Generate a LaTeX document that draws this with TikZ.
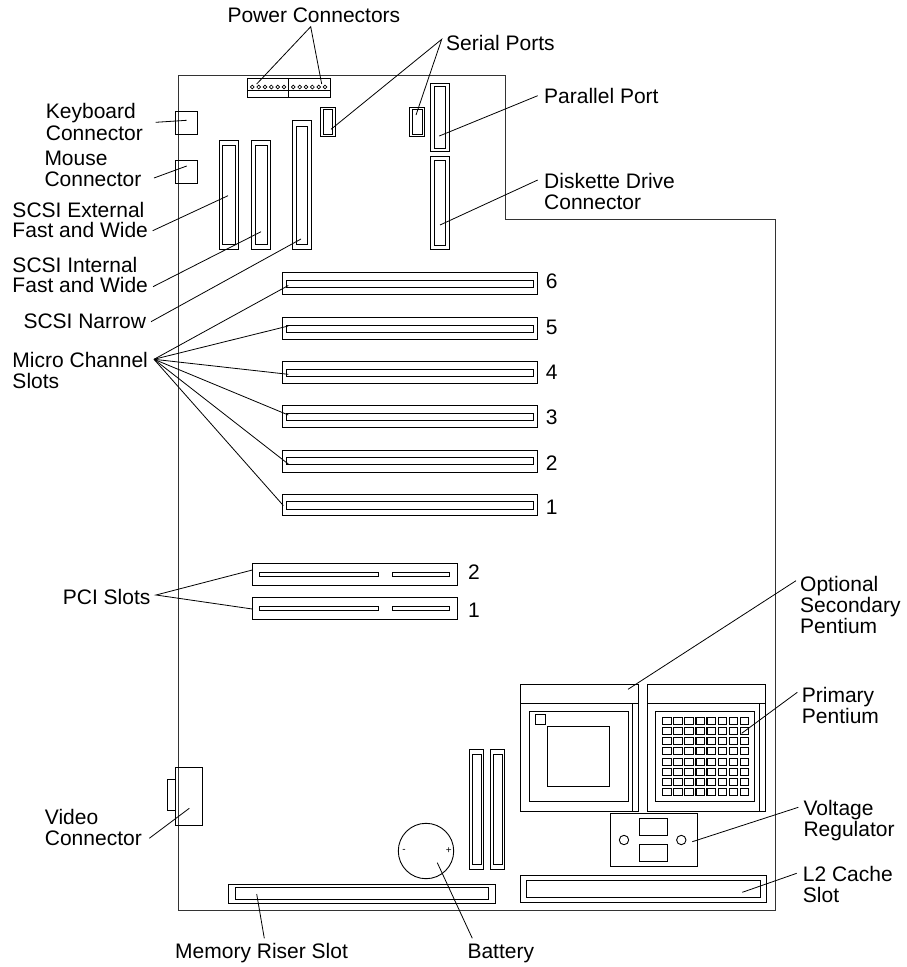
\documentclass[tikz,border=0pt]{standalone}
\usepackage{fontspec}
\setmainfont{Liberation Sans}
\tikzset{
    part/.style={black,line width=0.9pt},
    board/.style={black!80,line width=1pt},
    leader/.style={black,line width=0.8pt},
    callout/.style={anchor=north west,inner sep=0pt,align=left,font=\fontsize{21}{20.8}\selectfont},
    pinmark/.style={inner sep=0pt,font=\fontsize{10}{10}\selectfont}
}
\begin{document}
\begin{tikzpicture}[x=1pt,y=-1pt]
    \useasboundingbox (0,0) rectangle (907,967);
    % board outline
    \draw[board] (178.7,75) -- (505,75) -- (505,219) -- (775.3,219) -- (775.3,910.7) -- (178.7,910.7) -- cycle;
    % power connectors
    \draw[part] (247.5,78.7) rectangle (330.7,97.3);
    \draw[part] (247.5,90.7) -- (330.7,90.7) (288,78.7) -- (288,97.3);
    \foreach \i in {0,...,5} {
        \draw[part,line width=0.7pt] ({252.3+6.35*\i},87) circle[radius=1.9pt];
        \draw[part,line width=0.7pt] ({293.3+6.35*\i},87) circle[radius=1.9pt];
    }
    % keyboard, mouse, video
    \draw[part] (175,111.7) rectangle (197.3,134.3);
    \draw[part] (175,160.7) rectangle (197.3,183);
    \draw[part] (175,767.3) rectangle (202.3,825);
    \draw[part] (167,779.7) rectangle (175,810.3);
    % double outlined connectors, outer box then inner box
    \foreach \xa/\ya/\xb/\yb/\xc/\yc/\xd/\yd in {
        219.3/140/238.3/249.3/222.7/145.3/235/244.7,
        251.7/140/270.7/249.3/255.7/145.3/267/244.7,
        292.7/120.7/311.3/249.3/296.7/126/307.7/244,
        320/107.3/335.3/136/323/109/332.7/134.3,
        409.3/107.3/424.7/136/412.3/109/422/134.3,
        430.3/83.7/449/151.3/434.3/86.3/445.7/148.3,
        430.3/156.3/449/249.3/434.3/160.3/445.7/245.7,
        469.7/749.3/483.3/869/472.3/754.7/481.3/864.3,
        490.7/749.3/504.3/869/493.3/754.7/502.3/864.3,
        228.7/884.3/495/903/235.3/887.7/488.7/899.7,
        520/875.7/766.3/902.3/526.3/880.3/760/897.3
    } {
        \draw[part] (\xa,\ya) rectangle (\xb,\yb) (\xc,\yc) rectangle (\xd,\yd);
    }
    % micro channel slots
    \foreach \ya/\yb/\yc/\yd in {
        272.7/294.3/280.3/287.7,
        317.3/339.3/325/332.3,
        361.7/383.3/369/376.3,
        405.3/427.3/413/420.3,
        450/472/457.3/464.7,
        494.3/515.7/501.7/509
    } {
        \draw[part] (282.3,\ya) rectangle (537.3,\yb) (286.3,\yc) rectangle (533.3,\yd);
    }
    \node[callout] (mca6) at (545.7,273.6) {6};
    \node[callout] (mca5) at (545.7,319.6) {5};
    \node[callout] (mca4) at (545.7,365.3) {4};
    \node[callout] (mca3) at (545.7,409.3) {3};
    \node[callout] (mca2) at (545.7,455.3) {2};
    \node[callout] (mca1) at (545.7,500) {1};
    % pci slots
    \foreach \ya/\yc in {563.3/572.3,597.3/606.3} {
        \draw[part] (252.3,\ya) rectangle (457.7,\ya+22);
        \draw[part] (259.7,\yc) rectangle (378.7,\yc+4) (392.3,\yc) rectangle (449.7,\yc+4);
    }
    \node[callout] (pci2) at (468,564.3) {2};
    \node[callout] (pci1) at (468,602.6) {1};
    % battery
    \draw[part] (426,851) circle[radius=27.7pt];
    \node[pinmark] (minus) at (404,850.5) {-};
    \node[pinmark] (plus) at (448.7,850.5) {+};
    % pentium sockets
    \foreach \xa/\xb/\xc in {520.7/638.7/632.7,647/765.3/759.3} {
        \draw[part] (\xa,684) rectangle (\xb,811);
        \draw[part] (\xa,703) -- (\xb,703) (\xc,703) -- (\xc,811);
    }
    \draw[part] (529.3,711.3) rectangle (628.3,801.3);
    \draw[part] (547,726) rectangle (609.3,786);
    \draw[part] (535,714) rectangle (545.7,724);
    \draw[part] (655.3,711.3) rectangle (754,801.3);
    \foreach \i in {0,...,7} {
        \foreach \j in {0,...,7} {
            \draw[part,line width=1.1pt] ({662.85+11.04*\i},{717.2+10.23*\j}) rectangle +(8.3,7);
        }
    }
    % voltage regulator
    \draw[part] (610.3,813.7) rectangle (697.3,866);
    \draw[part] (639,818.3) rectangle (667.7,835.3);
    \draw[part] (639,844) rectangle (667.7,861.3);
    \draw[part] (624,840) circle[radius=4.7pt];
    \draw[part] (681.3,840) circle[radius=4.7pt];
    % labels
    \node[callout] (power) at (227.3,7.5) {Power Connectors};
    \node[callout] (serial) at (446,35) {Serial Ports};
    \node[callout] (parallel) at (544,88) {Parallel Port};
    \node[callout] (diskette) at (544,173) {Diskette Drive\\Connector};
    \node[callout] (keyboard) at (45.7,103) {Keyboard\\[1.5pt]Connector};
    \node[callout] (mouse) at (44.3,150.7) {Mouse\\Connector};
    \node[callout] (external) at (12.3,201.7) {SCSI External\\Fast and Wide};
    \node[callout] (internal) at (12.3,256.7) {SCSI Internal\\Fast and Wide};
    \node[callout] (narrow) at (23.3,314) {SCSI Narrow};
    \node[callout] (micro) at (12.3,352.5) {Micro Channel\\Slots};
    \node[callout] (pci) at (62.7,589) {PCI Slots};
    \node[callout] (video) at (44.7,809) {Video\\Connector};
    \node[callout] (memory) at (175,943.5) {Memory Riser Slot};
    \node[callout] (battery) at (467.3,943.5) {Battery};
    \node[callout] (optional) at (800,576.5) {Optional\\Secondary\\Pentium};
    \node[callout] (primary) at (801.7,687.5) {Primary\\Pentium};
    \node[callout] (voltage) at (803.3,800.5) {Voltage\\Regulator};
    \node[callout] (cache) at (802.7,866.5) {L2 Cache\\Slot};
    % leader ends
    \coordinate (powerfrom) at (310.7,26.7);
    \coordinate (powerleft) at (256.7,84);
    \coordinate (powerright) at (321.7,84);
    \coordinate (serialfrom) at (441.7,39.3);
    \coordinate (serialleft) at (331,129.3);
    \coordinate (serialright) at (416,115);
    \coordinate (parallelfrom) at (537.7,95.7);
    \coordinate (parallelto) at (439.3,136);
    \coordinate (diskettefrom) at (537.7,180);
    \coordinate (disketteto) at (440,225);
    \coordinate (keyboardfrom) at (155.7,122.3);
    \coordinate (keyboardto) at (186.7,120.3);
    \coordinate (mousefrom) at (154,178);
    \coordinate (mouseto) at (186.7,166);
    \coordinate (externalfrom) at (152.7,230.7);
    \coordinate (externalto) at (228,195.7);
    \coordinate (internalfrom) at (153,286.7);
    \coordinate (internalto) at (261,231.7);
    \coordinate (narrowfrom) at (151,321.7);
    \coordinate (narrowto) at (301,239);
    \coordinate (microfrom) at (154,359.3);
    \coordinate (microto6) at (288.3,285.5);
    \coordinate (microto5) at (288.3,326);
    \coordinate (microto4) at (288.3,374.3);
    \coordinate (microto3) at (288.3,415);
    \coordinate (microto2) at (288.3,464);
    \coordinate (microto1) at (283.3,505.5);
    \coordinate (pcifrom) at (156,595);
    \coordinate (pcito2) at (252.3,570);
    \coordinate (pcito1) at (252.3,609);
    \coordinate (videofrom) at (149.3,838.3);
    \coordinate (videoto) at (189.3,808.3);
    \coordinate (memoryfrom) at (264.3,938.3);
    \coordinate (memoryto) at (256.7,894);
    \coordinate (batteryfrom) at (472.3,938.3);
    \coordinate (batteryto) at (437.3,862.7);
    \coordinate (optionalfrom) at (796,580.7);
    \coordinate (optionalto) at (628,689.3);
    \coordinate (primaryfrom) at (797.3,692.3);
    \coordinate (primaryto) at (741.7,733.3);
    \coordinate (voltagefrom) at (798.3,807.3);
    \coordinate (voltageto) at (692.3,841.7);
    \coordinate (cachefrom) at (796.7,873.3);
    \coordinate (cacheto) at (742.3,892.3);
    % leaders
    \draw[leader] (powerleft) -- (powerfrom) -- (powerright);
    \draw[leader] (serialleft) -- (serialfrom) -- (serialright);
    \foreach \item in {parallel,diskette,keyboard,mouse,external,internal,narrow,video,memory,battery,optional,primary,voltage,cache} {
        \draw[leader] (\item from) -- (\item to);
    }
    \foreach \n in {1,...,6} {
        \draw[leader] (microfrom) -- (microto\n);
    }
    \draw[leader] (pcito2) -- (pcifrom) -- (pcito1);
\end{tikzpicture}
\end{document}
